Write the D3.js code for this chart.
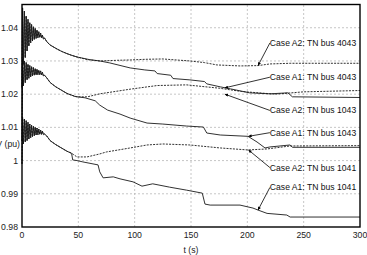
<!DOCTYPE html>
<html>
<head>
<meta charset="utf-8">
<script src="https://cdn.jsdelivr.net/npm/d3@7"></script>
<style>
  body { margin: 0; background: #fff; }
  svg { display: block; font-family: "Liberation Sans", Arial, sans-serif; }
</style>
</head>
<body>
<svg id="chart" width="367" height="255"></svg>
<script>
"use strict";

// tick labels
const xTicks = [0, 50, 100, 150, 200, 250, 300];
const yTicks = [0.98, 0.99, 1, 1.01, 1.02, 1.03, 1.04];

// shared start of the curves (oscillation after the event), t in seconds
const tHead = [0, 0.5, 1.3, 2.1, 2.9, 3.7, 4.5, 5.3, 6.1, 6.9, 7.7, 8.5, 9.3, 10.1, 10.9, 11.7,
    12.5, 13.3, 14.1, 14.9, 15.7, 16.5, 17.3, 18.1, 19, 20, 22, 25, 30, 35, 40, 44];
const head4043 = [1.022, 1.046, 1.029, 1.045, 1.031, 1.0435, 1.033, 1.0425, 1.0345, 1.0415, 1.0355, 1.041,
    1.036, 1.0403, 1.0365, 1.0398, 1.0368, 1.0393, 1.037, 1.0388, 1.0371, 1.0384, 1.0370, 1.0378, 1.0366,
    1.0369, 1.0358, 1.0348, 1.0338, 1.0329, 1.0322, 1.0317];
const head1043 = [1.006, 1.0305, 1.0225, 1.0300, 1.0235, 1.0295, 1.0243, 1.029, 1.0248, 1.0286, 1.0252, 1.0283,
    1.0255, 1.028, 1.0257, 1.0277, 1.0258, 1.0275, 1.0259, 1.0272, 1.0259, 1.027, 1.0258, 1.0266, 1.0255,
    1.0257, 1.0249, 1.0235, 1.0222, 1.0212, 1.0202, 1.0197];
const head1041 = [0.999, 1.0130, 1.005, 1.0125, 1.0056, 1.012, 1.006, 1.0115, 1.0065, 1.011, 1.0069, 1.0106,
    1.0072, 1.0103, 1.0075, 1.01, 1.0077, 1.0098, 1.0078, 1.0095, 1.0079, 1.0092, 1.0079, 1.0089, 1.0078,
    1.0080, 1.0074, 1.0060, 1.0048, 1.0038, 1.0028, 1.0022];

// tails of each curve
const tA2_4043 = [48.8, 58, 69, 85, 96, 110, 125, 149, 162, 173, 193.5, 209.5, 220, 238, 300];
const vA2_4043 = [1.0312, 1.0304, 1.0300, 1.0302, 1.0303, 1.0305, 1.0306, 1.0300, 1.0295, 1.0288, 1.0285, 1.0286, 1.0291, 1.0293, 1.0293];

const tA1_4043 = [48.8, 60, 69, 78, 96, 109, 118, 120, 132, 134, 149, 162, 164, 176, 185, 202, 220, 236, 240, 300];
const vA1_4043 = [1.0312, 1.0304, 1.0300, 1.0294, 1.0279, 1.0273, 1.0270, 1.0262, 1.0257, 1.0247, 1.0243, 1.0238, 1.0231, 1.0222, 1.0216, 1.0204, 1.0201, 1.0204, 1.0192, 1.0190];

const tA2_1043 = [48.8, 58, 69, 96, 120, 146, 175, 195, 210, 225, 250, 300];
const vA2_1043 = [1.0192, 1.0192, 1.0201, 1.0215, 1.0226, 1.0228, 1.0218, 1.0208, 1.0204, 1.0200, 1.0207, 1.0211];

const tA1_1043 = [47, 56, 65, 69, 76, 87, 96, 111, 125, 146, 161, 164, 176, 200.6, 208.6, 215.7, 220, 238, 240, 300];
const vA1_1043 = [1.0193, 1.0189, 1.0180, 1.0167, 1.0152, 1.0140, 1.0128, 1.0113, 1.0110, 1.0104, 1.0101, 1.0083, 1.0077, 1.0073, 1.0056, 1.0038, 1.0041, 1.0047, 1.0040, 1.0040];

const tA2_1041 = [48.8, 57.7, 69, 75, 96, 111, 125, 149, 176, 200.6, 217.5, 238, 300];
const vA2_1041 = [1.0011, 1.0011, 1.0020, 1.0026, 1.0038, 1.0047, 1.0050, 1.0047, 1.0038, 1.0032, 1.0035, 1.0044, 1.0045];

const tA1_1041 = [45, 48.8, 54, 67.5, 69, 72, 81, 87, 98.5, 106.5, 116, 131, 146, 160, 162.4, 167, 193.5, 205, 209.5, 217.5, 235, 238, 300];
const vA1_1041 = [1.0002, 1.0000, 0.9996, 0.9987, 0.9966, 0.9948, 0.9951, 0.9945, 0.9936, 0.9923, 0.9930, 0.9920, 0.9911, 0.9902, 0.9869, 0.9866, 0.9866, 0.9857, 0.9851, 0.9841, 0.9836, 0.9830, 0.9830];

// annotation labels: text, label anchor (t, v), arrow target (t, v)
const labelText = ["Case A2: TN bus 4043", "Case A1: TN bus 4043", "Case A2: TN bus 1043",
    "Case A1: TN bus 1043", "Case A2: TN bus 1041", "Case A1: TN bus 1041"];
const labelT = [220, 220, 220, 220, 220, 220];
const labelV = [1.0354, 1.0251, 1.0151, 1.0084, 0.9979, 0.9919];
const targetT = [209.5, 180, 180, 201, 201, 209.5];
const targetV = [1.0286, 1.0219, 1.0200, 1.0073, 1.0032, 0.9851];

const series = [
    { t: tHead.concat(tA2_4043), v: head4043.concat(vA2_4043), dashed: true },
    { t: tHead.concat(tA1_4043), v: head4043.concat(vA1_4043), dashed: false },
    { t: tHead.concat(tA2_1043), v: head1043.concat(vA2_1043), dashed: true },
    { t: tHead.concat(tA1_1043), v: head1043.concat(vA1_1043), dashed: false },
    { t: tHead.concat(tA2_1041), v: head1041.concat(vA2_1041), dashed: true },
    { t: tHead.concat(tA1_1041), v: head1041.concat(vA1_1041), dashed: false }
];

const svg = d3.select("#chart");
const margin = { left: 22, right: 7, top: 4.5, bottom: 28 };
const W = 367, H = 255;

const x = d3.scaleLinear().domain([0, 300]).range([margin.left, W - margin.right]);
const y = d3.scaleLinear().domain([0.98, 1.047]).range([H - margin.bottom, margin.top]);

// grid
const grid = svg.append("g");
grid.selectAll("line.gx").data(xTicks.slice(1, -1)).enter().append("line")
    .attr("x1", d => x(d)).attr("x2", d => x(d))
    .attr("y1", y.range()[0]).attr("y2", y.range()[1])
    .attr("stroke", "#b8b8b8").attr("stroke-width", 0.8).attr("stroke-dasharray", "2,2");
grid.selectAll("line.gy").data(yTicks.slice(1)).enter().append("line")
    .attr("y1", d => y(d)).attr("y2", d => y(d))
    .attr("x1", x.range()[0]).attr("x2", x.range()[1])
    .attr("stroke", "#b8b8b8").attr("stroke-width", 0.8).attr("stroke-dasharray", "2,2");

// curves
const line = d3.line().x(d => x(d[0])).y(d => y(d[1]));
series.forEach(s => {
    const pts = s.t.map((t, i) => [t, s.v[i]]);
    svg.append("path").datum(pts)
        .attr("d", line)
        .attr("fill", "none")
        .attr("stroke", "#1a1a1a")
        .attr("stroke-width", 0.9)
        .attr("stroke-dasharray", s.dashed ? "2,1.2" : null);
});

// annotations
svg.append("defs").append("marker")
    .attr("id", "arr").attr("viewBox", "0 0 10 10").attr("refX", 10).attr("refY", 5)
    .attr("markerWidth", 5).attr("markerHeight", 4).attr("orient", "auto")
    .append("path").attr("d", "M0,0L10,5L0,10z").attr("fill", "#000");

labelText.forEach((txt, i) => {
    svg.append("line")
        .attr("x1", x(labelT[i])).attr("y1", y(labelV[i]))
        .attr("x2", x(targetT[i])).attr("y2", y(targetV[i]))
        .attr("stroke", "#000").attr("stroke-width", 0.8)
        .attr("marker-end", "url(#arr)");
    svg.append("text")
        .attr("x", x(labelT[i])).attr("y", y(labelV[i]))
        .attr("dy", "0.35em")
        .attr("font-size", 8.6).attr("fill", "#111")
        .text(txt);
});

// frame
svg.append("rect")
    .attr("x", x.range()[0]).attr("y", y.range()[1])
    .attr("width", x.range()[1] - x.range()[0]).attr("height", y.range()[0] - y.range()[1])
    .attr("fill", "none").attr("stroke", "#000").attr("stroke-width", 1.4);

// tick labels
svg.append("g").selectAll("text").data(yTicks).enter().append("text")
    .attr("x", 18).attr("y", d => y(d)).attr("dy", "0.35em")
    .attr("text-anchor", "end").attr("font-size", 8.7).attr("fill", "#222")
    .text(d => d3.format("~g")(d));
svg.append("g").selectAll("text").data(xTicks).enter().append("text")
    .attr("x", d => x(d)).attr("y", 238).attr("text-anchor", "middle")
    .attr("font-size", 8.7).attr("fill", "#222")
    .text(d => d);

// axis titles
svg.append("text").attr("x", (x.range()[0] + x.range()[1]) / 2).attr("y", 253)
    .attr("text-anchor", "middle").attr("font-size", 8.7).attr("fill", "#222").text("t (s)");
svg.append("text").attr("x", 20).attr("y", 144).attr("dy", "0.35em")
    .attr("text-anchor", "end").attr("font-size", 8.7).attr("fill", "#222").text("V (pu)");
</script>
</body>
</html>
